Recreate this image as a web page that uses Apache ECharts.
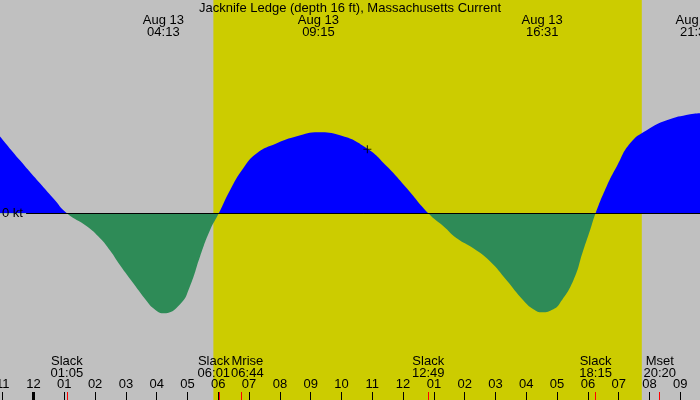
<!DOCTYPE html>
<html>
<head>
    <meta charset="utf-8">
    <title>Jacknife Ledge current</title>
    <style>
        html, body { margin: 0; padding: 0; background: #c0c0c0; }
        #chart { width: 700px; height: 400px; }
    </style>
</head>
<body>
    <div id="chart"></div>
    <script src="https://cdn.jsdelivr.net/npm/echarts@6.0.0/dist/echarts.min.js"></script>
    <script>
        // hours since midnight Aug 13, current in kt (flood +, ebb -)
        var hours = [-1.09, -0.44, 0.21, 0.64, 1.083,
            1.73, 2.16, 2.48, 2.81, 3.24, 3.68, 3.89, 4.217, 4.76, 5.08, 5.41, 5.73, 6.017,
            6.38, 6.81, 7.25, 7.90, 8.55, 9.25, 9.95, 10.82, 11.47, 12.12, 12.817,
            13.31, 13.74, 14.28, 14.82, 15.36, 15.90, 16.23, 16.517, 16.88, 17.09, 17.53, 17.85, 18.07, 18.25,
            18.61, 18.94, 19.37, 19.91, 20.56, 21.32, 21.64];
        var speed = [0.77, 0.53, 0.30, 0.15, 0,
            -0.13, -0.25, -0.37, -0.52, -0.70, -0.88, -0.95, -1.00, -0.91, -0.73, -0.43, -0.17, 0,
            0.23, 0.45, 0.60, 0.70, 0.77, 0.81, 0.78, 0.65, 0.47, 0.25, 0,
            -0.13, -0.25, -0.35, -0.48, -0.67, -0.87, -0.96, -0.99, -0.96, -0.90, -0.67, -0.37, -0.17, 0,
            0.27, 0.47, 0.70, 0.83, 0.93, 0.99, 1.00];

        // max current times (top labels)
        var peakHours = [4.217, 9.25, 16.517, 21.517];
        var peakLabels = ['Aug 13\n04:13', 'Aug 13\n09:15', 'Aug 13\n16:31', 'Aug 13\n21:31'];

        // slack water and moon events (bottom labels)
        var eventHours = [1.083, 6.017, 6.733, 12.817, 18.25, 20.333];
        var eventLabels = ['Slack\n01:05', 'Slack\n06:01', 'Mrise\n06:44', 'Slack\n12:49', 'Slack\n18:15', 'Mset\n20:20'];

        var hourTicks = [-1, 0, 1, 2, 3, 4, 5, 6, 7, 8, 9, 10, 11, 12, 13, 14, 15, 16, 17, 18, 19, 20, 21];
        var daylight = [5.84, 19.75];
        var nowMark = [10.84, 0.64];

        var xMin = -1.088, xMax = 21.64;
        var yMin = -1.867, yMax = 2.133;
        var font = 'Liberation Sans';
        var fs = 13;

        function hourName(h) {
            var v = ((Math.round(h) % 12) + 12) % 12;
            if (v === 0) v = 12;
            return (v < 10 ? '0' : '') + v;
        }

        var chart = echarts.init(document.getElementById('chart'));

        var baseX = {
            type: 'value', min: xMin, max: xMax, z: 10,
            axisLine: { show: false, onZero: false }, splitLine: { show: false }
        };

        chart.setOption({
            backgroundColor: '#c0c0c0',
            animation: false,
            title: {
                text: 'Jacknife Ledge (depth 16 ft), Massachusetts Current',
                left: 'center', top: 2, padding: 0, z: 10,
                textStyle: { fontFamily: font, fontSize: fs, fontWeight: 'normal', color: '#000', lineHeight: 12 }
            },
            grid: { left: 0, right: 0, top: 0, bottom: 0, containLabel: false, outerBoundsMode: 'none' },
            xAxis: [
                Object.assign({}, baseX, {
                    position: 'bottom',
                    axisTick: { show: true, inside: true, length: 8, customValues: hourTicks, lineStyle: { color: '#000' } },
                    axisLabel: {
                        inside: true, margin: 9, customValues: hourTicks,
                        fontFamily: font, fontSize: fs, color: '#000',
                        formatter: function (v) { return hourName(v); }
                    }
                }),
                Object.assign({}, baseX, {
                    position: 'bottom',
                    axisTick: { show: true, inside: true, length: 8, customValues: eventHours, lineStyle: { color: '#ff0000' } },
                    axisLabel: {
                        inside: true, margin: 21, customValues: eventHours,
                        fontFamily: font, fontSize: fs, color: '#000', lineHeight: 12,
                        formatter: function (v) {
                            var i = eventHours.indexOf(v);
                            var s = eventLabels[i];
                            // nudge the two crowded labels apart
                            if (i === 1) return '{l|' + s + '}';
                            if (i === 2) return '{r|' + s + '}';
                            return s;
                        },
                        rich: {
                            l: { padding: [0, 10, 0, 0], fontFamily: font, fontSize: fs, lineHeight: 12, color: '#000' },
                            r: { padding: [0, 0, 0, 13], fontFamily: font, fontSize: fs, lineHeight: 12, color: '#000' }
                        }
                    }
                }),
                Object.assign({}, baseX, {
                    position: 'top',
                    axisTick: { show: false },
                    axisLabel: {
                        inside: true, margin: 14, customValues: peakHours,
                        fontFamily: font, fontSize: fs, color: '#000', lineHeight: 12,
                        formatter: function (v) { return peakLabels[peakHours.indexOf(v)]; }
                    }
                })
            ],
            yAxis: {
                type: 'value', min: yMin, max: yMax, z: 10,
                axisLine: { show: false, onZero: false }, axisTick: { show: false }, splitLine: { show: false },
                axisLabel: {
                    inside: true, margin: 2, customValues: [0],
                    fontFamily: font, fontSize: fs, color: '#000',
                    formatter: function () { return '0 kt'; }
                }
            },
            series: [
                {
                    name: 'daylight', type: 'line', z: 1, data: [],
                    markArea: {
                        silent: true,
                        itemStyle: { color: '#cccc00' },
                        data: [[{ xAxis: daylight[0], yAxis: yMin }, { xAxis: daylight[1], yAxis: yMax }]]
                    }
                },
                {
                    name: 'current', type: 'line', z: 2,
                    smooth: 0.5,
                    showSymbol: false,
                    lineStyle: { width: 0 },
                    areaStyle: { opacity: 1, origin: 0, color: '#0000ff' },
                    data: hours.map(function (h, i) { return [h, speed[i]]; })
                },
                {
                    name: 'marks', type: 'line', z: 3, data: [],
                    markLine: {
                        silent: true, symbol: 'none', label: { show: false },
                        data: [
                            [{ coord: [-0.24, 0], lineStyle: { color: '#000', width: 1, type: 'solid' } }, { coord: [xMax, 0] }],
                            [{ coord: [0, yMin], lineStyle: { color: '#000', width: 3, type: 'solid' } }, { coord: [0, yMin + 0.08] }]
                        ]
                    }
                },
                {
                    name: 'now', type: 'scatter', z: 4,
                    symbol: 'path://M3,0h1v7h-1zM0,3h7v1h-7z', symbolSize: 8,
                    itemStyle: { color: '#000' },
                    data: [nowMark]
                }
            ]
        });

        // flood above the zero line is blue, ebb below it is green
        var zeroY = chart.convertToPixel({ yAxisIndex: 0 }, 0);
        var split = zeroY / chart.getHeight();
        chart.setOption({
            series: [{}, {
                areaStyle: {
                    color: new echarts.graphic.LinearGradient(0, 0, 0, chart.getHeight(), [
                        { offset: 0, color: '#0000ff' },
                        { offset: split, color: '#0000ff' },
                        { offset: split, color: '#2e8b57' },
                        { offset: 1, color: '#2e8b57' }
                    ], true)
                }
            }]
        });
    </script>
</body>
</html>
